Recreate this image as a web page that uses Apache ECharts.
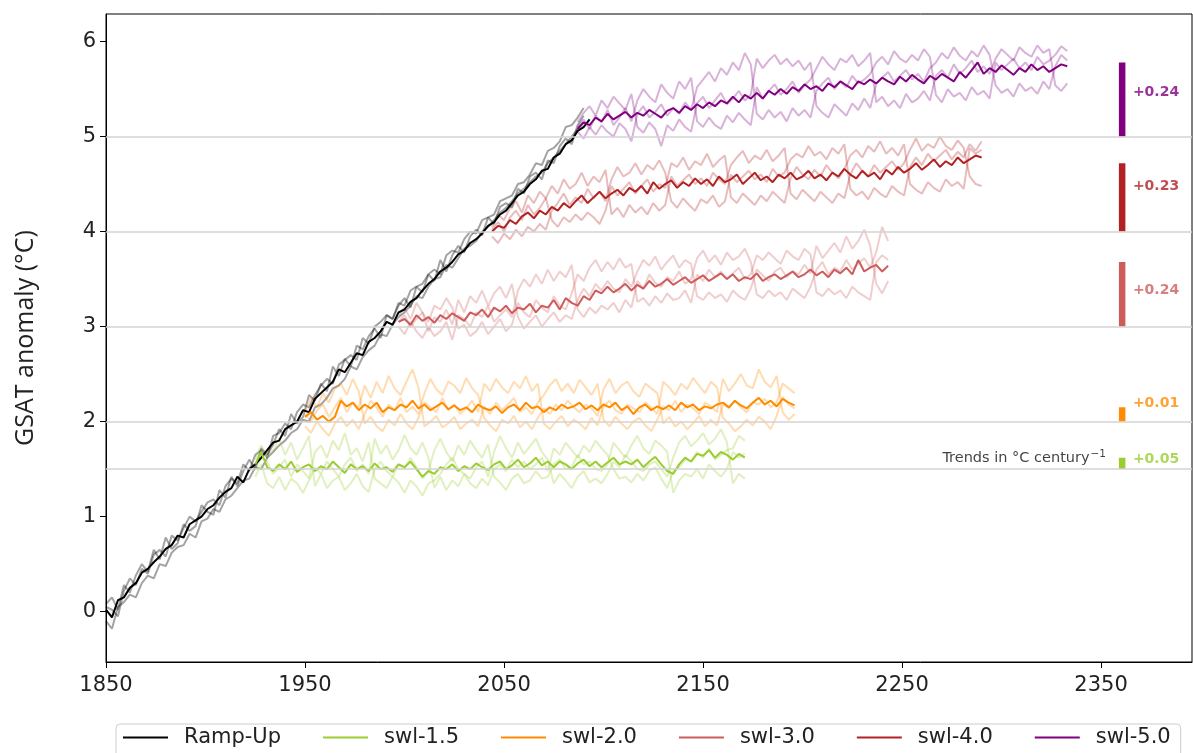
<!DOCTYPE html>
<html>
<head>
<meta charset="utf-8">
<script src="https://cdn.jsdelivr.net/npm/echarts@6/dist/echarts.min.js"></script>
<style>
html,body{margin:0;padding:0;background:#fff;}
#chart{width:1193px;height:753px;}
</style>
</head>
<body>
<div id="chart"></div>
<script>
// ---------------- DATA ----------------
const STEP = 3; // years between sampled values

const RAMP_START = 1850;
const RAMP_MEAN = [0.02,-0.06,0.12,0.15,0.25,0.30,0.41,0.45,0.52,0.58,
0.66,0.70,0.80,0.78,0.92,0.96,1.00,1.08,1.12,1.20,
1.26,1.30,1.42,1.36,1.50,1.55,1.62,1.70,1.78,1.80,
1.92,1.96,2.00,2.12,2.10,2.24,2.30,2.36,2.42,2.55,
2.52,2.62,2.72,2.70,2.84,2.88,2.95,3.05,3.02,3.15,
3.18,3.26,3.30,3.38,3.45,3.50,3.58,3.62,3.68,3.76,
3.80,3.88,3.92,3.98,4.06,4.10,4.18,4.22,4.30,4.38,
4.42,4.50,4.55,4.64,4.66,4.78,4.82,4.92,4.96,5.06,
5.10,5.18];
const RAMP_M1 = [0.08,0.15,0.02,0.28,0.20,0.38,0.50,0.42,0.65,0.55,
0.78,0.66,0.72,0.92,0.85,0.90,1.12,1.05,1.02,1.28,
1.20,1.42,1.32,1.48,1.60,1.50,1.72,1.65,1.76,1.92,
1.85,2.08,1.98,2.05,2.28,2.22,2.40,2.32,2.58,2.48,
2.66,2.58,2.80,2.76,2.90,2.98,2.88,3.12,3.08,3.22,
3.30,3.20,3.42,3.36,3.55,3.48,3.70,3.58,3.75,3.85,
3.78,3.95,4.02,3.96,4.15,4.08,4.26,4.30,4.25,4.45,
4.40,4.58,4.62,4.55,4.75,4.72,4.90,4.98,4.92,5.12,
5.22];
const RAMP_M2 = [-0.10,-0.18,0.05,0.10,0.18,0.15,0.30,0.38,0.35,0.50,
0.48,0.62,0.68,0.70,0.82,0.78,0.95,0.98,1.08,1.05,
1.18,1.22,1.30,1.38,1.40,1.52,1.50,1.62,1.68,1.75,
1.80,1.88,1.92,2.02,2.00,2.15,2.18,2.25,2.35,2.38,
2.45,2.58,2.55,2.68,2.75,2.80,2.92,2.90,3.02,3.10,
3.15,3.22,3.32,3.30,3.42,3.50,3.52,3.65,3.62,3.72,
3.82,3.85,3.90,4.00,4.05,4.12,4.20,4.25,4.32,4.40,
4.45,4.52,4.58,4.62,4.72,4.78,4.85,4.92,5.00,5.08,
5.15];
const RAMP_M3 = [0.05,0.02,-0.05,0.22,0.35,0.28,0.45,0.40,0.60,0.65,
0.58,0.80,0.75,0.88,1.00,0.95,1.05,1.15,1.18,1.12,
1.32,1.40,1.35,1.55,1.48,1.65,1.70,1.62,1.85,1.88,
1.98,1.92,2.10,2.18,2.15,2.28,2.38,2.45,2.40,2.60,
2.65,2.70,2.65,2.88,2.82,3.00,3.05,3.12,3.08,3.25,
3.22,3.38,3.42,3.45,3.55,3.60,3.55,3.75,3.80,3.78,
3.92,4.00,3.98,4.12,4.15,4.18,4.32,4.35,4.38,4.50,
4.52,4.60,4.72,4.70,4.85,4.88,4.95,5.10,5.12,5.20,
5.30];

const SWL15_START = 1925;
const SWL15_MEAN = [1.55,1.68,1.52,1.48,1.55,1.50,1.58,1.47,1.52,1.55,
1.48,1.53,1.50,1.58,1.52,1.46,1.55,1.50,1.53,1.48,
1.56,1.50,1.52,1.47,1.55,1.52,1.58,1.50,1.42,1.48,
1.45,1.52,1.50,1.55,1.48,1.53,1.50,1.56,1.52,1.49,
1.55,1.58,1.50,1.54,1.60,1.52,1.56,1.62,1.54,1.58,
1.52,1.58,1.55,1.50,1.56,1.60,1.53,1.58,1.52,1.57,
1.62,1.55,1.58,1.55,1.60,1.52,1.58,1.63,1.55,1.48,
1.45,1.55,1.62,1.58,1.66,1.64,1.70,1.62,1.68,1.65,
1.60,1.66,1.62];
const SWL15_M1 = [1.60,1.75,1.62,1.70,1.82,1.65,1.78,1.60,1.72,1.85,
1.32,1.45,1.30,1.38,1.42,1.28,1.35,1.45,1.32,1.26,
1.50,1.58,1.48,1.42,1.55,1.50,1.62,1.52,1.40,1.48,
1.70,1.82,1.68,1.58,1.75,1.65,1.80,1.70,1.62,1.76,
1.42,1.36,1.28,1.40,1.45,1.35,1.38,1.48,1.40,1.42,
1.55,1.60,1.50,1.52,1.65,1.55,1.58,1.50,1.48,1.55,
1.78,1.70,1.62,1.75,1.85,1.72,1.66,1.80,1.75,1.68,
1.25,1.38,1.45,1.42,1.50,1.40,1.55,1.48,1.42,1.50,
1.68,1.62,1.66];
const SWL15_M2 = [1.42,1.55,1.35,1.30,1.42,1.28,1.40,1.35,1.25,1.38,
1.52,1.45,1.58,1.50,1.42,1.55,1.62,1.48,1.55,1.45,
1.82,1.66,1.75,1.60,1.70,1.86,1.72,1.65,1.78,1.62,
1.30,1.42,1.28,1.38,1.32,1.45,1.35,1.30,1.40,1.33,
1.50,1.55,1.48,1.60,1.52,1.58,1.50,1.55,1.62,1.48,
1.72,1.65,1.78,1.70,1.62,1.75,1.68,1.80,1.72,1.65,
1.50,1.40,1.42,1.36,1.45,1.38,1.48,1.52,1.40,1.30,
1.48,1.52,1.60,1.58,1.68,1.62,1.72,1.60,1.65,1.70,
1.72,1.85,1.80];
const SWL15_M3 = [1.50,1.62,1.58,1.45,1.52,1.60,1.42,1.55,1.48,1.40,
1.68,1.75,1.62,1.80,1.70,1.88,1.65,1.72,1.58,1.78,
1.40,1.35,1.30,1.42,1.36,1.25,1.38,1.32,1.22,1.35,
1.38,1.45,1.55,1.62,1.50,1.45,1.40,1.52,1.58,1.42,
1.68,1.85,1.72,1.62,1.78,1.66,1.74,1.82,1.68,1.60,
1.35,1.45,1.38,1.30,1.42,1.48,1.36,1.40,1.35,1.45,
1.58,1.52,1.65,1.58,1.50,1.48,1.55,1.58,1.50,1.42,
1.62,1.78,1.85,1.74,1.80,1.88,1.76,1.82,1.92,1.78,
1.35,1.45,1.40];

const SWL20_START = 1950;
const SWL20_MEAN = [2.05,2.10,2.02,2.06,2.00,2.05,2.22,2.16,2.20,2.12,
2.18,2.14,2.20,2.10,2.15,2.12,2.18,2.15,2.22,2.14,
2.18,2.12,2.16,2.20,2.13,2.17,2.12,2.15,2.10,2.18,
2.14,2.12,2.16,2.09,2.15,2.18,2.12,2.20,2.14,2.16,
2.10,2.15,2.12,2.18,2.14,2.16,2.20,2.13,2.17,2.12,
2.18,2.15,2.20,2.12,2.16,2.08,2.15,2.18,2.12,2.16,
2.13,2.17,2.12,2.20,2.15,2.18,2.12,2.16,2.14,2.18,
2.20,2.15,2.22,2.17,2.14,2.20,2.25,2.18,2.22,2.16,
2.24,2.20,2.17];
const SWL20_M1 = [2.10,2.25,2.15,2.30,2.20,2.35,2.40,2.28,2.45,2.32,
1.98,2.05,1.95,1.90,2.02,1.96,2.08,1.98,1.92,2.04,
2.20,2.15,2.10,2.25,2.12,2.18,2.08,2.14,2.22,2.10,
2.40,2.32,2.45,2.36,2.30,2.42,2.35,2.48,2.32,2.40,
1.98,1.92,2.00,2.06,1.95,2.02,1.98,1.92,2.04,1.96,
2.16,2.22,2.12,2.08,2.18,2.14,2.10,2.20,2.15,2.08,
2.42,2.36,2.28,2.40,2.34,2.46,2.38,2.30,2.42,2.36,
2.04,1.98,1.90,1.95,2.02,1.96,2.05,2.00,1.92,2.06,
2.26,2.18,2.14];
const SWL20_M2 = [1.95,1.88,2.00,1.92,1.85,1.98,2.05,1.95,2.02,1.92,
2.08,2.22,2.15,2.05,2.18,2.12,2.25,2.10,2.16,2.08,
2.30,2.45,2.34,2.28,2.42,2.38,2.30,2.46,2.35,2.28,
2.04,1.96,1.90,2.02,1.98,2.06,1.94,2.00,1.92,2.04,
2.14,2.08,2.18,2.12,2.22,2.15,2.10,2.18,2.14,2.06,
2.34,2.45,2.30,2.38,2.42,2.32,2.26,2.40,2.35,2.30,
1.98,2.05,1.95,2.00,1.92,1.98,2.06,1.95,2.02,1.96,
2.18,2.14,2.22,2.15,2.10,2.20,2.18,2.24,2.15,2.20,
2.40,2.35,2.30];
const SWL20_M3 = [2.08,2.00,2.12,2.18,2.05,2.15,2.25,2.10,2.20,2.15,
2.38,2.25,2.42,2.30,2.48,2.35,2.28,2.42,2.55,2.36,
1.95,2.00,2.06,1.94,1.98,2.05,1.92,1.98,2.02,1.95,
2.16,2.08,2.20,2.12,2.18,2.25,2.10,2.15,2.08,2.20,
2.28,2.38,2.45,2.32,2.40,2.30,2.44,2.36,2.28,2.40,
2.02,1.95,2.05,1.98,1.92,2.00,2.04,1.96,1.90,2.02,
2.16,2.12,2.22,2.10,2.18,2.14,2.08,2.20,2.16,2.10,
2.45,2.32,2.40,2.50,2.38,2.35,2.55,2.42,2.36,2.48,
2.10,2.02,2.08];

const SWL30_START = 1997;
const SWL30_MEAN = [3.05,3.08,3.02,3.12,3.06,3.10,3.04,3.12,3.08,3.14,
3.10,3.06,3.15,3.12,3.18,3.10,3.20,3.16,3.22,3.14,
3.20,3.18,3.24,3.15,3.22,3.20,3.28,3.18,3.30,3.25,
3.22,3.32,3.28,3.38,3.35,3.42,3.36,3.40,3.45,3.38,
3.44,3.40,3.48,3.42,3.45,3.50,3.44,3.48,3.52,3.46,
3.50,3.54,3.48,3.52,3.56,3.50,3.55,3.48,3.52,3.50,
3.56,3.48,3.52,3.55,3.50,3.54,3.58,3.52,3.55,3.60,
3.54,3.58,3.52,3.60,3.56,3.62,3.55,3.70,3.58,3.62,
3.65,3.58,3.64];
const SWL30_M1 = [3.12,3.20,3.08,3.25,3.15,3.05,3.22,3.18,3.30,3.20,
2.98,3.02,2.90,2.95,3.05,2.92,3.00,3.08,2.95,3.02,
3.25,3.15,3.10,3.28,3.20,3.15,3.32,3.22,3.18,3.35,
3.55,3.48,3.62,3.70,3.58,3.68,3.60,3.72,3.62,3.66,
3.26,3.30,3.22,3.32,3.25,3.35,3.28,3.30,3.38,3.25,
3.55,3.48,3.60,3.52,3.58,3.50,3.56,3.62,3.50,3.55,
3.75,3.70,3.78,3.72,3.66,3.80,3.74,3.70,3.82,3.76,
3.36,3.32,3.40,3.34,3.38,3.30,3.42,3.36,3.32,3.28,
3.68,3.75,3.70];
const SWL30_M2 = [3.00,2.92,3.05,2.95,2.88,3.00,2.90,2.95,3.05,2.86,
3.12,3.08,3.00,3.15,3.10,3.22,3.05,3.12,3.18,3.10,
3.38,3.50,3.42,3.55,3.45,3.60,3.48,3.58,3.52,3.65,
3.18,3.10,3.20,3.14,3.22,3.18,3.25,3.15,3.28,3.20,
3.48,3.40,3.55,3.46,3.42,3.52,3.48,3.58,3.45,3.50,
3.72,3.80,3.68,3.75,3.65,3.78,3.70,3.74,3.82,3.68,
3.34,3.30,3.38,3.32,3.36,3.28,3.40,3.35,3.30,3.42,
3.60,3.68,3.55,3.62,3.58,3.70,3.60,3.66,3.72,3.62,
3.78,4.05,3.90];
const SWL30_M3 = [3.05,3.12,3.00,3.08,3.15,2.95,3.10,3.05,3.18,3.02,
3.28,3.15,3.32,3.25,3.38,3.22,3.35,3.42,3.30,3.45,
3.10,2.98,3.05,3.12,3.00,3.08,3.15,3.05,3.12,3.08,
3.28,3.40,3.32,3.45,3.38,3.48,3.40,3.36,3.50,3.42,
3.58,3.70,3.64,3.74,3.60,3.68,3.75,3.62,3.70,3.66,
3.32,3.28,3.36,3.30,3.34,3.26,3.38,3.32,3.28,3.40,
3.60,3.54,3.48,3.58,3.62,3.52,3.58,3.55,3.65,3.56,
3.85,3.72,3.80,3.88,3.78,3.95,3.82,3.90,4.02,3.85,
3.45,3.35,3.48];

const SWL40_START = 2044;
const SWL40_MEAN = [4.00,4.06,4.04,4.12,4.08,4.16,4.20,4.14,4.22,4.18,
4.26,4.22,4.30,4.25,4.32,4.38,4.30,4.36,4.42,4.35,
4.40,4.44,4.38,4.46,4.42,4.48,4.40,4.52,4.45,4.50,
4.54,4.46,4.52,4.48,4.56,4.50,4.55,4.48,4.58,4.52,
4.55,4.60,4.50,4.56,4.62,4.54,4.58,4.52,4.60,4.56,
4.62,4.55,4.58,4.64,4.56,4.60,4.54,4.62,4.58,4.66,
4.60,4.56,4.64,4.58,4.62,4.55,4.65,4.60,4.68,4.62,
4.66,4.72,4.65,4.70,4.76,4.68,4.74,4.70,4.78,4.72,
4.76,4.80,4.78];
const SWL40_M1 = [4.05,4.18,4.12,4.25,4.32,4.20,4.38,4.30,4.42,4.35,
4.12,4.05,4.15,4.10,4.18,4.12,4.20,4.15,4.08,4.22,
4.48,4.38,4.45,4.52,4.40,4.48,4.55,4.42,4.50,4.46,
4.72,4.68,4.78,4.65,4.74,4.70,4.82,4.68,4.75,4.80,
4.36,4.30,4.40,4.34,4.28,4.38,4.32,4.42,4.36,4.30,
4.56,4.68,4.60,4.55,4.65,4.58,4.70,4.62,4.56,4.66,
4.80,4.86,4.78,4.90,4.84,4.95,4.82,4.88,4.80,4.92,
4.50,4.44,4.40,4.52,4.46,4.42,4.55,4.48,4.52,4.45,
4.88,4.82,4.86];
const SWL40_M2 = [3.95,3.88,3.98,3.92,4.02,3.95,4.05,4.00,4.08,4.02,
4.22,4.30,4.40,4.28,4.36,4.30,4.45,4.35,4.42,4.32,
4.55,4.68,4.58,4.62,4.72,4.60,4.70,4.65,4.75,4.62,
4.32,4.25,4.35,4.28,4.22,4.34,4.30,4.38,4.26,4.32,
4.60,4.52,4.58,4.64,4.55,4.60,4.52,4.66,4.58,4.62,
4.76,4.82,4.78,4.90,4.80,4.84,4.76,4.88,4.82,4.92,
4.45,4.38,4.42,4.34,4.46,4.40,4.36,4.48,4.42,4.38,
4.68,4.78,4.70,4.82,4.74,4.80,4.86,4.76,4.84,4.78,
4.92,4.85,4.95];
const SWL40_M3 = [4.02,4.10,4.00,4.15,4.22,4.12,4.28,4.18,4.25,4.35,
4.48,4.40,4.55,4.45,4.50,4.62,4.48,4.58,4.52,4.65,
4.18,4.25,4.15,4.28,4.20,4.26,4.18,4.30,4.22,4.28,
4.58,4.48,4.54,4.60,4.50,4.56,4.48,4.62,4.55,4.50,
4.70,4.78,4.85,4.72,4.80,4.76,4.86,4.74,4.80,4.88,
4.40,4.34,4.44,4.38,4.32,4.42,4.36,4.30,4.40,4.35,
4.60,4.72,4.64,4.58,4.70,4.62,4.68,4.74,4.65,4.72,
4.86,4.98,4.85,4.92,4.88,5.00,4.90,4.86,4.96,4.88,
4.58,4.50,4.48];

const SWL50_START = 2087;
const SWL50_MEAN = [5.08,5.15,5.12,5.20,5.16,5.24,5.18,5.22,5.26,5.20,
5.25,5.22,5.28,5.24,5.20,5.27,5.30,5.25,5.32,5.28,
5.34,5.30,5.36,5.32,5.38,5.35,5.42,5.36,5.44,5.40,
5.46,5.40,5.48,5.44,5.50,5.45,5.52,5.48,5.55,5.50,
5.53,5.48,5.56,5.52,5.58,5.54,5.50,5.58,5.55,5.60,
5.56,5.62,5.58,5.55,5.63,5.58,5.65,5.60,5.56,5.64,
5.60,5.66,5.62,5.58,5.68,5.62,5.70,5.78,5.66,5.72,
5.68,5.75,5.70,5.65,5.72,5.68,5.76,5.70,5.74,5.68,
5.72,5.76,5.74];
const SWL50_M1 = [5.15,5.25,5.32,5.22,5.38,5.30,5.42,5.35,5.28,5.45,
5.10,5.04,5.15,5.08,4.90,5.12,5.06,5.18,5.10,5.05,
5.35,5.42,5.30,5.38,5.46,5.34,5.40,5.48,5.38,5.44,
5.82,5.72,5.80,5.86,5.76,5.82,5.74,5.80,5.70,5.78,
5.32,5.25,5.20,5.34,5.28,5.22,5.35,5.28,5.40,5.30,
5.55,5.62,5.68,5.58,5.64,5.70,5.60,5.66,5.58,5.72,
5.78,5.88,5.82,5.94,5.85,5.80,5.90,5.84,5.96,5.86,
5.54,5.46,5.50,5.42,5.56,5.48,5.52,5.45,5.58,5.50,
5.74,5.86,5.80];
const SWL50_M2 = [5.05,4.98,5.10,5.02,5.12,5.05,5.00,5.14,5.08,4.95,
5.24,5.32,5.20,5.26,5.34,5.22,5.30,5.24,5.36,5.28,
5.52,5.60,5.68,5.58,5.72,5.65,5.78,5.70,5.88,5.76,
5.24,5.18,5.28,5.20,5.26,5.16,5.30,5.22,5.28,5.20,
5.48,5.56,5.62,5.50,5.58,5.52,5.64,5.56,5.60,5.66,
5.78,5.84,5.76,5.90,5.82,5.78,5.86,5.80,5.92,5.84,
5.44,5.36,5.50,5.42,5.46,5.38,5.52,5.44,5.48,5.40,
5.78,5.70,5.76,5.82,5.72,5.78,5.70,5.84,5.76,5.80,
5.86,5.95,5.90];
const SWL50_M3 = [5.10,5.18,5.08,5.22,5.15,5.28,5.12,5.20,5.30,5.16,
5.38,5.50,5.42,5.36,5.55,5.46,5.40,5.58,5.50,5.62,
5.16,5.10,5.20,5.12,5.08,5.22,5.15,5.25,5.18,5.12,
5.52,5.40,5.48,5.55,5.44,5.50,5.58,5.46,5.54,5.60,
5.72,5.84,5.76,5.70,5.82,5.78,5.86,5.74,5.80,5.88,
5.36,5.42,5.32,5.38,5.30,5.45,5.36,5.40,5.48,5.38,
5.64,5.70,5.62,5.76,5.66,5.72,5.80,5.68,5.74,5.66,
5.82,5.92,5.86,5.80,5.94,5.88,5.84,5.96,5.88,5.92,
5.54,5.48,5.56];

// trend bars (bottom = stabilisation level, top) and their labels
const TREND_LEVELS = [1.5, 2.0, 3.0, 4.0, 5.0];
const TREND_TOPS   = [1.62, 2.15, 3.68, 4.72, 5.78];
const TREND_TEXT   = ['+0.05', '+0.01', '+0.24', '+0.23', '+0.24'];
const GRID_LEVELS  = [1.5, 2, 3, 4, 5];
const X_TICKS = [1850, 1950, 2050, 2150, 2250, 2350];
const Y_TICKS = [0, 1, 2, 3, 4, 5, 6];

// ---------------- layout / style ----------------
const TREND_X = 2360.6;
const TREND_LABEL_X = 2366.0;
const TREND_LABEL_Y = [1.60, 2.19, 3.38, 4.48, 5.47];
const NOTE_X = 2352.5, NOTE_Y = 1.61;

const COLORS = {
  'Ramp-Up': '#000000',
  'swl-1.5': '#9acd32',
  'swl-2.0': '#ff8c00',
  'swl-3.0': '#cd5c5c',
  'swl-4.0': '#b22222',
  'swl-5.0': '#800080'
};
function rgba(hex, a){
  const r=parseInt(hex.slice(1,3),16), g=parseInt(hex.slice(3,5),16), b=parseInt(hex.slice(5,7),16);
  return 'rgba('+r+','+g+','+b+','+a+')';
}
function pairs(start, arr){ return arr.map((v,i)=>[start + i*STEP, v]); }

const GROUPS = [
  {name:'Ramp-Up', start:RAMP_START, mean:RAMP_MEAN, members:[RAMP_M1,RAMP_M2,RAMP_M3], alpha:0.36},
  {name:'swl-1.5', start:SWL15_START, mean:SWL15_MEAN, members:[SWL15_M1,SWL15_M2,SWL15_M3], alpha:0.3},
  {name:'swl-2.0', start:SWL20_START, mean:SWL20_MEAN, members:[SWL20_M1,SWL20_M2,SWL20_M3], alpha:0.3},
  {name:'swl-3.0', start:SWL30_START, mean:SWL30_MEAN, members:[SWL30_M1,SWL30_M2,SWL30_M3], alpha:0.3},
  {name:'swl-4.0', start:SWL40_START, mean:SWL40_MEAN, members:[SWL40_M1,SWL40_M2,SWL40_M3], alpha:0.3},
  {name:'swl-5.0', start:SWL50_START, mean:SWL50_MEAN, members:[SWL50_M1,SWL50_M2,SWL50_M3], alpha:0.3}
];
const TREND_COLORS = [COLORS['swl-1.5'], COLORS['swl-2.0'], COLORS['swl-3.0'], COLORS['swl-4.0'], COLORS['swl-5.0']];

const series = [];
// horizontal reference lines
series.push({
  type:'line', name:'_grid', data:[], z:1, silent:true,
  markLine:{
    silent:true, symbol:'none', animation:false,
    label:{show:false},
    lineStyle:{color:'#d3d3d3', width:1.6, type:'solid'},
    data: GRID_LEVELS.map(v=>({yAxis:v}))
  }
});
GROUPS.forEach((g, gi)=>{
  g.members.forEach((m, mi)=>{
    series.push({
      type:'line', name:g.name+'_m'+mi, data:pairs(g.start, m),
      symbol:'none', showSymbol:false, silent:true, z:2,
      lineStyle:{color: rgba(COLORS[g.name], g.alpha), width:2}
    });
  });
  series.push({
    type:'line', name:g.name, data:pairs(g.start, g.mean),
    symbol:'none', showSymbol:false, silent:true, z:3,
    color: COLORS[g.name],
    lineStyle:{color: COLORS[g.name], width:2}
  });
});
// trend bars
TREND_LEVELS.forEach((lv, i)=>{
  series.push({
    type:'line', name:'_trend'+i, data:[[TREND_X, lv],[TREND_X, TREND_TOPS[i]]],
    symbol:'none', silent:true, z:4,
    lineStyle:{color:TREND_COLORS[i], width:6.5, cap:'butt'}
  });
});
// trend labels
series.push({
  type:'scatter', name:'_trendLabels', symbolSize:0, silent:true, z:5,
  data: TREND_TEXT.map((t,i)=>({
    value:[TREND_LABEL_X, TREND_LABEL_Y[i]],
    label:{show:true, position:'right', distance:0, formatter:t,
      color:TREND_COLORS[i], fontWeight:'bold', fontSize:14, fontFamily:'DejaVu Sans'}
  }))
});
series.push({
  type:'scatter', name:'_note', symbolSize:0, silent:true, z:5,
  data:[{value:[NOTE_X, NOTE_Y],
    label:{show:true, position:'left', distance:0,
      formatter:'{a|Trends in °C century}{s|−1}',
      rich:{
        a:{fontSize:14.5, fontFamily:'DejaVu Sans', color:'#111', lineHeight:18},
        s:{fontSize:10.5, fontFamily:'DejaVu Sans', color:'#111', lineHeight:18, padding:[0,0,9,1]}
      }}
  }]
});

const chart = echarts.init(document.getElementById('chart'), null, {renderer:'canvas'});
chart.setOption({
  animation:false,
  backgroundColor:'#ffffff',
  grid:{left:106, right:1, top:14, bottom:91, show:true, borderColor:'#000', borderWidth:1, backgroundColor:'transparent'},
  legend:{
    data:['Ramp-Up','swl-1.5','swl-2.0','swl-3.0','swl-4.0','swl-5.0'],
    left:116, top:724, orient:'horizontal',
    icon:'rect',
    itemWidth:45, itemHeight:2, itemGap:42,
    padding:[3,10,16,7],
    borderColor:'#cccccc', borderWidth:1, borderRadius:4, backgroundColor:'#fff',
    textStyle:{fontSize:21, fontFamily:'DejaVu Sans', color:'#222', padding:[0,0,0,11]}
  },
  xAxis:{
    type:'value', min:1850, max:2395.7, interval:100,
    axisLine:{show:true, onZero:false, lineStyle:{color:'#000', width:1}},
    axisTick:{show:true, inside:false, length:6, lineStyle:{color:'#000'}, customValues:X_TICKS},
    axisLabel:{fontSize:21, fontFamily:'DejaVu Sans', color:'#222', margin:13, customValues:X_TICKS, formatter:v=>String(v)},
    splitLine:{show:false}
  },
  yAxis:{
    type:'value', min:-0.53, max:6.29,
    name:'GSAT anomaly (°C)', nameLocation:'middle', nameGap:68,
    nameTextStyle:{fontSize:25, fontFamily:'Open Sans', color:'#222'},
    axisLine:{show:true, onZero:false, lineStyle:{color:'#000', width:1}},
    axisTick:{show:true, inside:false, length:6, lineStyle:{color:'#000'}, customValues:Y_TICKS},
    axisLabel:{fontSize:21, fontFamily:'DejaVu Sans', color:'#222', margin:10, customValues:Y_TICKS},
    splitLine:{show:false}
  },
  series: series
});
</script>
</body>
</html>
